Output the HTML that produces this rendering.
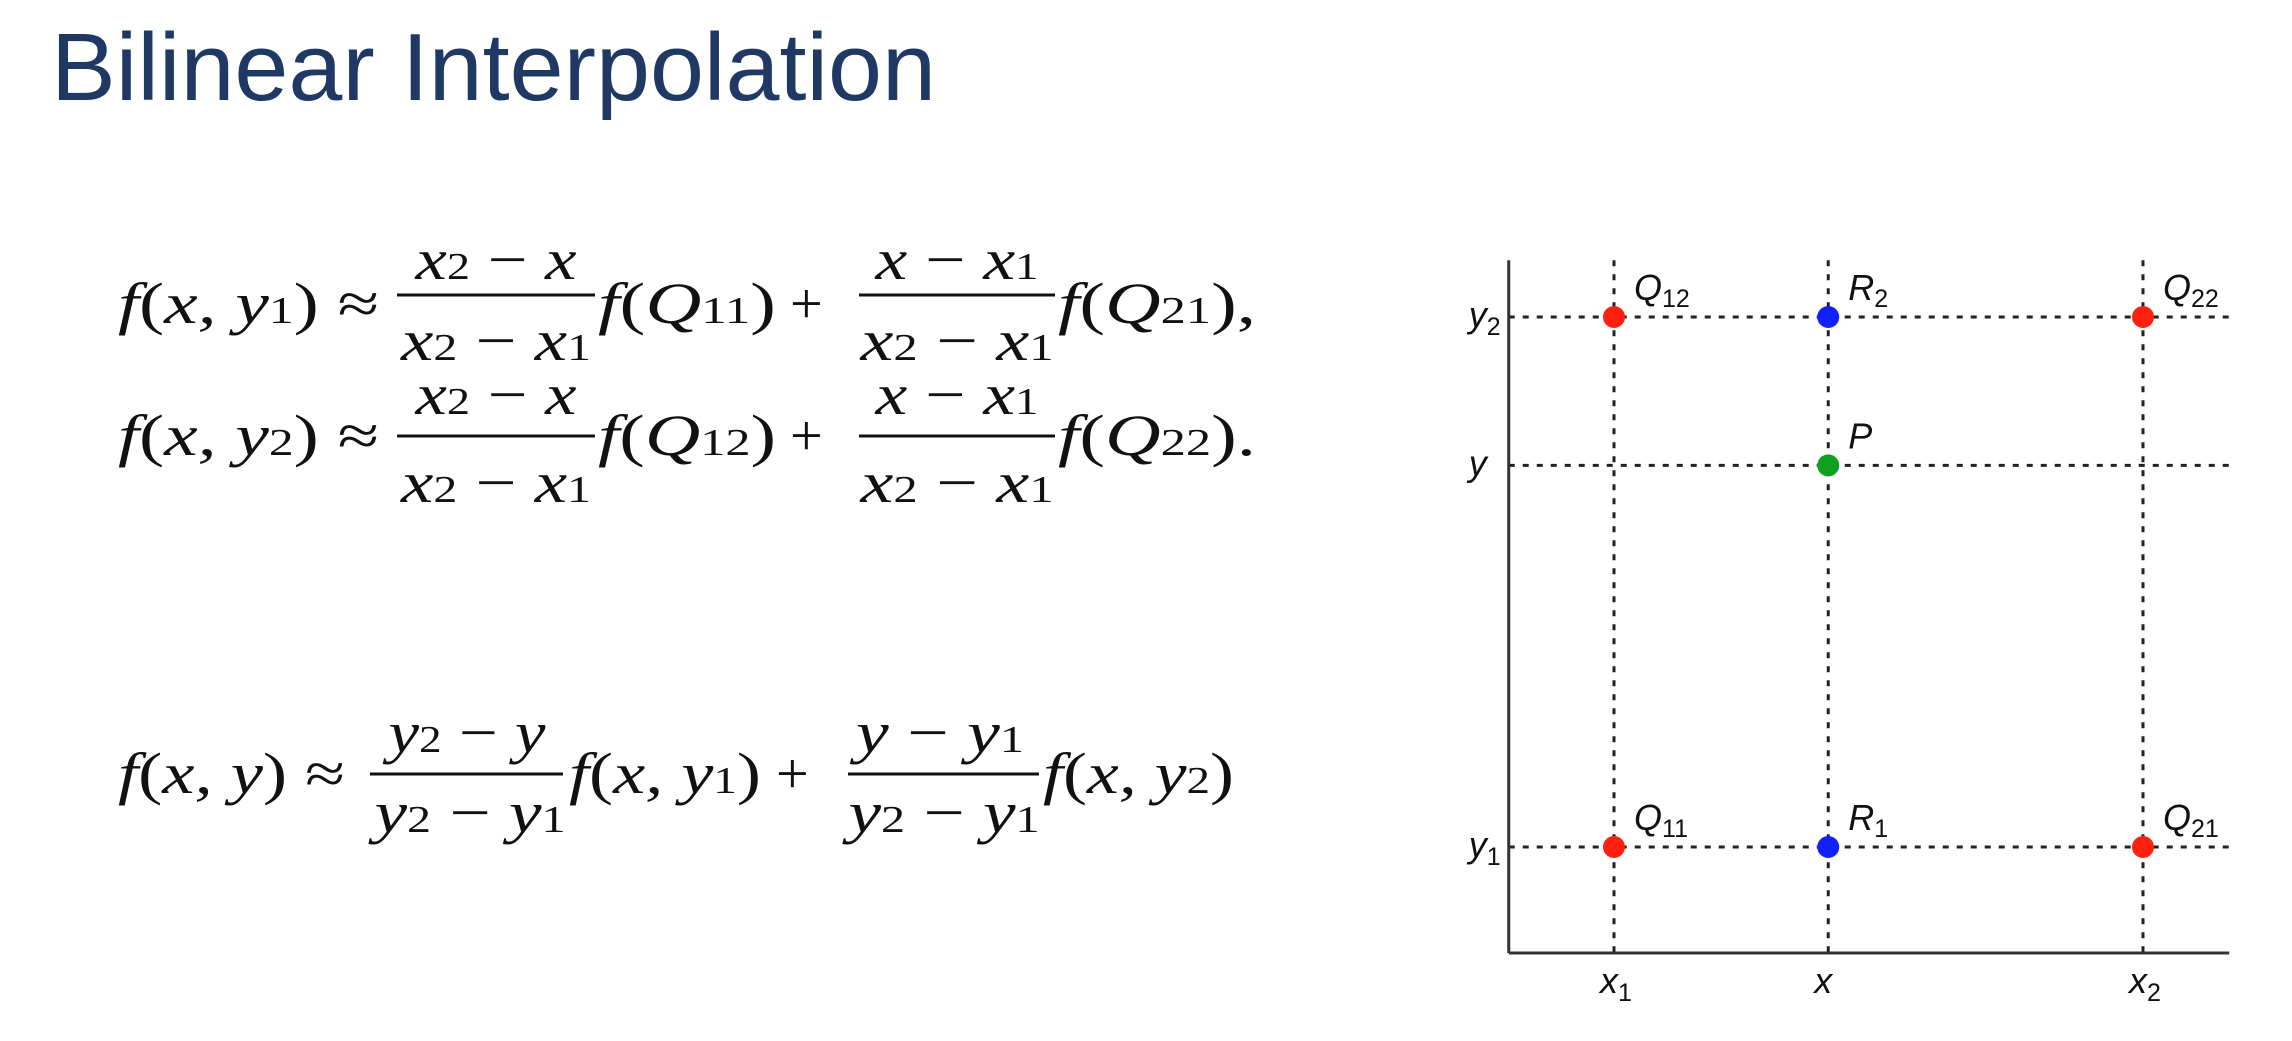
<!DOCTYPE html>
<html><head><meta charset="utf-8"><style>
html,body{margin:0;padding:0;background:#fff;}
svg{display:block;}
.m{font-family:"Liberation Serif",serif;font-style:italic;font-size:58px;fill:#111;}
.r{font-style:normal;}
.lab{font-family:"Liberation Sans",sans-serif;font-style:italic;font-size:36px;fill:#111;}
</style></head><body>
<svg id="root" width="2292" height="1041" viewBox="0 0 2292 1041" xmlns="http://www.w3.org/2000/svg">
<text x="51" y="100" font-family="Liberation Sans, sans-serif" font-size="96" fill="#1f3864" textLength="885" lengthAdjust="spacingAndGlyphs">Bilinear Interpolation</text>

<g>
<text class="m" x="118" y="323" textLength="261" lengthAdjust="spacingAndGlyphs">f<tspan class="r">(</tspan>x, y<tspan class="r" font-size="38">1</tspan><tspan class="r">) ≈</tspan></text>
<text class="m" x="496" y="279" text-anchor="middle" textLength="161" lengthAdjust="spacingAndGlyphs">x<tspan class="r" font-size="38">2</tspan><tspan class="r"> − </tspan>x</text>
<line x1="397" y1="295" x2="595" y2="295" stroke="#111" stroke-width="3"/>
<text class="m" x="496" y="360" text-anchor="middle" textLength="190" lengthAdjust="spacingAndGlyphs">x<tspan class="r" font-size="38">2</tspan><tspan class="r"> − </tspan>x<tspan class="r" font-size="38">1</tspan></text>
<text class="m" x="598" y="323" textLength="178" lengthAdjust="spacingAndGlyphs">f<tspan class="r">(</tspan>Q<tspan class="r" font-size="38">11</tspan><tspan class="r">)</tspan></text>
<text class="m r" x="790" y="323">+</text>
<text class="m" x="957" y="279" text-anchor="middle" textLength="163" lengthAdjust="spacingAndGlyphs">x<tspan class="r"> − </tspan>x<tspan class="r" font-size="38">1</tspan></text>
<line x1="859" y1="295" x2="1055" y2="295" stroke="#111" stroke-width="3"/>
<text class="m" x="957" y="360" text-anchor="middle" textLength="193" lengthAdjust="spacingAndGlyphs">x<tspan class="r" font-size="38">2</tspan><tspan class="r"> − </tspan>x<tspan class="r" font-size="38">1</tspan></text>
<text class="m" x="1058" y="323" textLength="198" lengthAdjust="spacingAndGlyphs">f<tspan class="r">(</tspan>Q<tspan class="r" font-size="38">21</tspan><tspan class="r">),</tspan></text>
</g>

<g>
<text class="m" x="118" y="455" textLength="261" lengthAdjust="spacingAndGlyphs">f<tspan class="r">(</tspan>x, y<tspan class="r" font-size="38">2</tspan><tspan class="r">) ≈</tspan></text>
<text class="m" x="496" y="414" text-anchor="middle" textLength="161" lengthAdjust="spacingAndGlyphs">x<tspan class="r" font-size="38">2</tspan><tspan class="r"> − </tspan>x</text>
<line x1="397" y1="436" x2="595" y2="436" stroke="#111" stroke-width="3"/>
<text class="m" x="496" y="502" text-anchor="middle" textLength="190" lengthAdjust="spacingAndGlyphs">x<tspan class="r" font-size="38">2</tspan><tspan class="r"> − </tspan>x<tspan class="r" font-size="38">1</tspan></text>
<text class="m" x="598" y="455" textLength="178" lengthAdjust="spacingAndGlyphs">f<tspan class="r">(</tspan>Q<tspan class="r" font-size="38">12</tspan><tspan class="r">)</tspan></text>
<text class="m r" x="790" y="455">+</text>
<text class="m" x="957" y="414" text-anchor="middle" textLength="163" lengthAdjust="spacingAndGlyphs">x<tspan class="r"> − </tspan>x<tspan class="r" font-size="38">1</tspan></text>
<line x1="859" y1="436" x2="1055" y2="436" stroke="#111" stroke-width="3"/>
<text class="m" x="957" y="502" text-anchor="middle" textLength="193" lengthAdjust="spacingAndGlyphs">x<tspan class="r" font-size="38">2</tspan><tspan class="r"> − </tspan>x<tspan class="r" font-size="38">1</tspan></text>
<text class="m" x="1058" y="455" textLength="198" lengthAdjust="spacingAndGlyphs">f<tspan class="r">(</tspan>Q<tspan class="r" font-size="38">22</tspan><tspan class="r">).</tspan></text>
</g>

<g>
<text class="m" x="118" y="793" textLength="227" lengthAdjust="spacingAndGlyphs">f<tspan class="r">(</tspan>x, y<tspan class="r">) ≈</tspan></text>
<text class="m" x="467" y="752" text-anchor="middle" textLength="157" lengthAdjust="spacingAndGlyphs">y<tspan class="r" font-size="38">2</tspan><tspan class="r"> − </tspan>y</text>
<line x1="370" y1="774" x2="563" y2="774" stroke="#111" stroke-width="3"/>
<text class="m" x="470" y="832" text-anchor="middle" textLength="191" lengthAdjust="spacingAndGlyphs">y<tspan class="r" font-size="38">2</tspan><tspan class="r"> − </tspan>y<tspan class="r" font-size="38">1</tspan></text>
<text class="m" x="569" y="793" textLength="192" lengthAdjust="spacingAndGlyphs">f<tspan class="r">(</tspan>x, y<tspan class="r" font-size="38">1</tspan><tspan class="r">)</tspan></text>
<text class="m r" x="776" y="793">+</text>
<text class="m" x="940" y="752" text-anchor="middle" textLength="168" lengthAdjust="spacingAndGlyphs">y<tspan class="r"> − </tspan>y<tspan class="r" font-size="38">1</tspan></text>
<line x1="848" y1="774" x2="1039" y2="774" stroke="#111" stroke-width="3"/>
<text class="m" x="944" y="832" text-anchor="middle" textLength="191" lengthAdjust="spacingAndGlyphs">y<tspan class="r" font-size="38">2</tspan><tspan class="r"> − </tspan>y<tspan class="r" font-size="38">1</tspan></text>
<text class="m" x="1043" y="793" textLength="191" lengthAdjust="spacingAndGlyphs">f<tspan class="r">(</tspan>x, y<tspan class="r" font-size="38">2</tspan><tspan class="r">)</tspan></text>
</g>

<g id="chart"></g>
</svg>
<script>
const xTickNames = ["x", "x", "x"];
const xTickSubs = ["1", "", "2"];
const xTickValues = [0, 0.405, 1];
const yTickNames = ["y", "y", "y"];
const yTickSubs = ["1", "", "2"];
const yTickValues = [0, 0.72, 1];
const pointNames = ["Q", "R", "Q", "Q", "R", "Q", "P"];
const pointSubs = ["11", "1", "21", "12", "2", "22", ""];
const pointX = [0, 0.405, 1, 0, 0.405, 1, 0.405];
const pointY = [0, 0, 0, 1, 1, 1, 0.72];
const pointColors = ["#ff2010", "#1020ff", "#ff2010", "#ff2010", "#1020ff", "#ff2010", "#10a020"];

const NS = "http://www.w3.org/2000/svg";
const g = document.getElementById("chart");
const X0 = 1614, XS = 529, Y0 = 847, YS = 530;
const sx = v => X0 + v * XS;
const sy = v => Y0 - v * YS;
const axL = sx(-0.199), axR = sx(1.163), axT = sy(1.107), axB = sy(-0.2);
function mk(tag, attrs) { const e = document.createElementNS(NS, tag); for (const k in attrs) e.setAttribute(k, attrs[k]); g.appendChild(e); return e; }
function addSub(t, txt, dy) {
  const s = document.createElementNS(NS, "tspan");
  s.setAttribute("font-size", "25");
  s.setAttribute("font-style", "normal");
  s.setAttribute("dy", dy);
  s.textContent = txt;
  t.appendChild(s);
}

xTickValues.forEach((v, i) => {
  const l = mk("line", {x1: sx(v), x2: sx(v), y1: axT, y2: axB, stroke: "#222", "stroke-width": 3, "stroke-dasharray": "6 8"});
  
  
  const t = mk("text", {x: sx(v) - 14, y: axB + 40, "class": "lab"});
  
  
  t.textContent = xTickNames[i];
  if (xTickSubs[i]) addSub(t, xTickSubs[i], "8");
});
yTickValues.forEach((v, i) => {
  const l = mk("line", {x1: axL, x2: axR, y1: sy(v), y2: sy(v), stroke: "#222", "stroke-width": 3, "stroke-dasharray": "6 8"});
  
  
  const t = mk("text", {x: axL - 40, y: sy(v) + 10, "class": "lab"});
  
  
  t.textContent = yTickNames[i];
  if (yTickSubs[i]) addSub(t, yTickSubs[i], "8");
});
const ya = mk("line", {x1: axL, x2: axL, y1: axT, y2: axB, stroke: "#333", "stroke-width": 3});


const xa = mk("line", {x1: axL, x2: axR, y1: axB, y2: axB, stroke: "#333", "stroke-width": 3});



pointNames.forEach((n, i) => {
  const c = mk("circle", {cx: sx(pointX[i]), cy: sy(pointY[i]), r: 11, fill: pointColors[i]});
  
  
  const t = mk("text", {x: sx(pointX[i]) + 20, y: sy(pointY[i]) - 17, "class": "lab"});
  
  
  t.textContent = n;
  if (pointSubs[i]) addSub(t, pointSubs[i], "7");
});
</script>
</body></html>
